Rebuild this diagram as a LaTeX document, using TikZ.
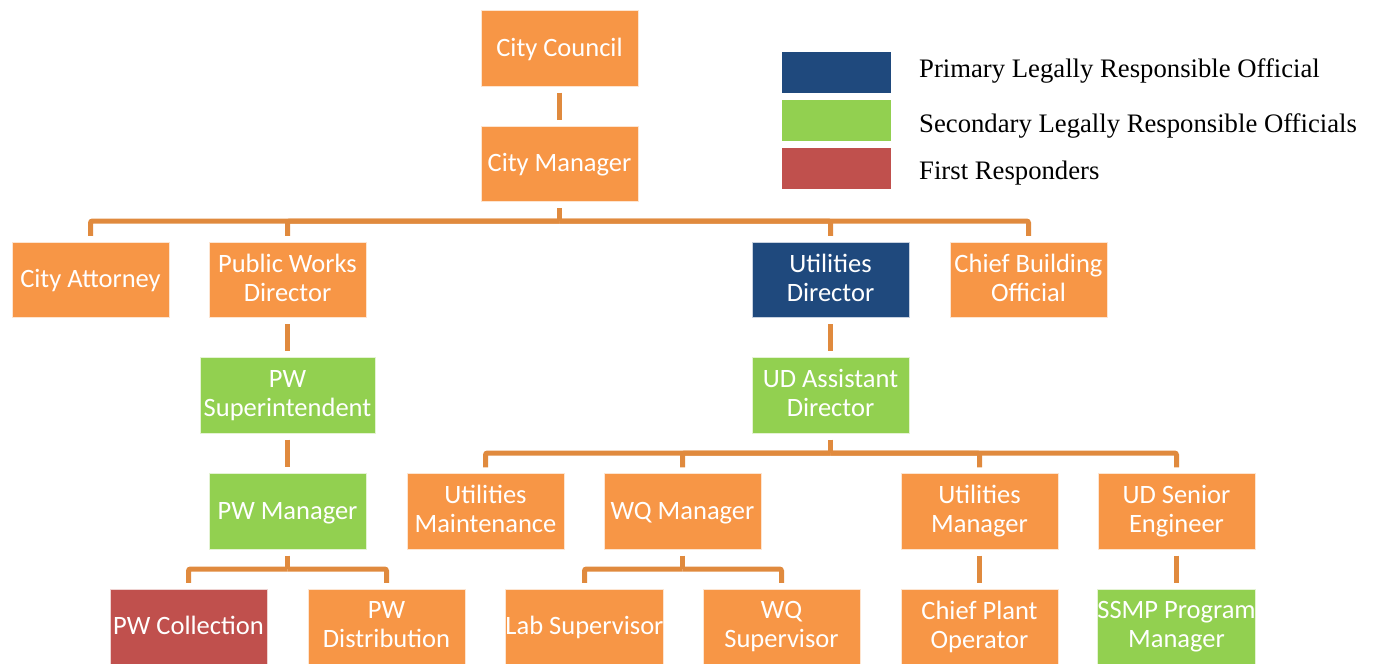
\documentclass[tikz,border=0pt]{standalone}
\usepackage{fontspec}
\setmainfont{Liberation Serif}
\newfontfamily\boxfont{Carlito}
\definecolor{orgfill}{HTML}{F79646}
\definecolor{bluefill}{HTML}{1F497D}
\definecolor{greenfill}{HTML}{92D050}
\definecolor{redfill}{HTML}{C0504D}
\definecolor{connc}{HTML}{E08A3E}
\newcommand{\boxstrut}{\rule[-5pt]{0pt}{25pt}}
\begin{document}
\begin{tikzpicture}[x=1pt,y=-1pt,
  orgbox/.style={rectangle, fill=orgfill, draw=white!75!orgfill, line width=0.6pt,
     minimum width=157pt, minimum height=75.5pt, inner sep=0pt, align=center,
     text=white, font=\boxfont\fontsize{26.5}{29}\selectfont,
     execute at begin node=\boxstrut, execute at end node=\boxstrut},
  bluebox/.style={orgbox, fill=bluefill, draw=white!75!bluefill},
  greenbox/.style={orgbox, fill=greenfill, draw=white!75!greenfill},
  redbox/.style={orgbox, fill=redfill, draw=white!75!redfill},
  conn/.style={draw=connc, line width=5pt, rounded corners=2pt},
  legrect/.style={rectangle, minimum width=109pt, minimum height=41pt, inner sep=0pt},
  legtext/.style={anchor=west, inner sep=0pt, font=\fontsize{26.7}{30}\selectfont}]
\useasboundingbox (0,0) rectangle (1374,664);

% nodes
\node[orgbox] (cc) at (559.5,48.5) {City Council};
\node[orgbox] (cm) at (559.5,164) {City Manager};
\node[orgbox] (ca) at (90.5,280) {City Attorney};
\node[orgbox] (pwd) at (287.5,280) {Public Works\\Director};
\node[bluebox] (ud) at (830.5,280) {Utilities\\Director};
\node[orgbox] (cbo) at (1028.5,280) {Chief Building\\Official};
\node[greenbox, minimum width=175pt] (pws) at (287.5,395.5) {PW\\Superintendent};
\node[greenbox] (uda) at (830.5,395.5) {UD Assistant\\Director};
\node[greenbox] (pwm) at (287.5,511.5) {PW Manager};
\node[orgbox] (um) at (485.5,511.5) {Utilities\\Maintenance};
\node[orgbox] (wqm) at (682.5,511.5) {WQ Manager};
\node[orgbox] (utm) at (979.5,511.5) {Utilities\\Manager};
\node[orgbox] (use) at (1176.5,511.5) {UD Senior\\Engineer};
\node[redbox] (pwc) at (188.5,627) {PW Collection};
\node[orgbox] (pwdi) at (386.5,627) {PW\\Distribution};
\node[orgbox] (lab) at (584.5,627) {Lab Supervisor};
\node[orgbox] (wqs) at (781.5,627) {WQ\\Supervisor};
\node[orgbox] (cpo) at (979.5,627) {Chief Plant\\Operator};
\node[greenbox] (ssmp) at (1176.5,627) {SSMP Program\\Manager};

% bus coordinates
\coordinate (b1) at (559.5,221);
\coordinate (b2) at (830.5,453);
\coordinate (b3) at (287.5,569);
\coordinate (b4) at (682.5,569);

% connectors
\draw[conn, shorten <=6pt, shorten >=6pt] (cc) -- (cm);
\draw[conn, shorten <=6pt] (cm.south) -- (b1);
\foreach \n in {ca,pwd,ud,cbo} \draw[conn, shorten >=6pt] (b1) -| (\n.north);
\draw[conn, shorten <=6pt, shorten >=6pt] (pwd) -- (pws);
\draw[conn, shorten <=6pt, shorten >=6pt] (pws) -- (pwm);
\draw[conn, shorten <=6pt, shorten >=6pt] (ud) -- (uda);
\draw[conn, shorten <=6pt] (uda.south) -- (b2);
\foreach \n in {um,wqm,utm,use} \draw[conn, shorten >=6pt] (b2) -| (\n.north);
\draw[conn, shorten <=6pt] (pwm.south) -- (b3);
\foreach \n in {pwc,pwdi} \draw[conn, shorten >=6pt] (b3) -| (\n.north);
\draw[conn, shorten <=6pt] (wqm.south) -- (b4);
\foreach \n in {lab,wqs} \draw[conn, shorten >=6pt] (b4) -| (\n.north);
\draw[conn, shorten <=6pt, shorten >=6pt] (utm) -- (cpo);
\draw[conn, shorten <=6pt, shorten >=6pt] (use) -- (ssmp);

% legend
\node[legrect, fill=bluefill] (lg1) at (836.5,72.5) {};
\node[legrect, fill=greenfill] (lg2) at (836.5,120.5) {};
\node[legrect, fill=redfill] (lg3) at (836.5,168.5) {};
\node[legtext] (lt1) at (919,71) {Primary Legally Responsible Official};
\node[legtext] (lt2) at (919,126) {Secondary Legally Responsible Officials};
\node[legtext] (lt3) at (919,173) {First Responders};
\end{tikzpicture}
\end{document}
